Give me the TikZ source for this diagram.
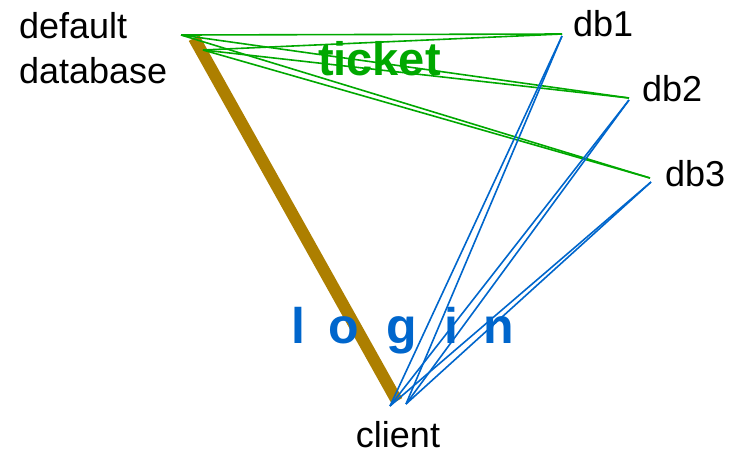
\documentclass[tikz,border=0pt]{standalone}
\usepackage{fontspec}
\setmainfont{Liberation Sans}
\usetikzlibrary{positioning}
\definecolor{ticketgreen}{HTML}{00A800}
\definecolor{loginblue}{HTML}{0066CC}
\definecolor{trustbrown}{HTML}{AD7F00}

\begin{document}
\begin{tikzpicture}[
  x=1pt, y=-1pt,
  every node/.style={inner sep=0pt, outer sep=0pt},
  lbl/.style={font=\fontsize{36}{45}\selectfont, align=left},
  tkt/.style={line width=1.6pt, color=ticketgreen},
  lgn/.style={line width=1.6pt, color=loginblue},
  trust/.style={line width=12pt, color=trustbrown},
  word/.style={font=\fontsize{47}{50}\selectfont\bfseries},
]
  \useasboundingbox (0,0) rectangle (733,456);

  \coordinate (dfltA) at (181,35);
  \coordinate (dfltB) at (203,50);
  \coordinate (dfltT) at (194,38);
  \coordinate (clA) at (390,406);
  \coordinate (clB) at (406,404);
  \coordinate (clT) at (397,401);
  \coordinate (db1p) at (562,34);
  \coordinate (db2p) at (629,98);
  \coordinate (db3p) at (650,178);
  \coordinate (db1q) at (562,36);
  \coordinate (db2q) at (629,100);
  \coordinate (db3q) at (651,182);

  \draw[trust] (dfltT) -- (clT);

  \foreach \d in {db1p,db2p,db3p} {
    \draw[tkt] (dfltA) -- (\d);
    \draw[tkt] (dfltB) -- (\d);
  }
  \foreach \d in {db1q,db2q,db3q} {
    \draw[lgn] (clA) -- (\d);
    \draw[lgn] (clB) -- (\d);
  }

  \node[lbl, anchor=north west] (dflt) at (19,12) {default\\database};
  \node[lbl, anchor=base west] (db1) at (573,36) {db1};
  \node[lbl, anchor=base west] (db2) at (642,101) {db2};
  \node[lbl, anchor=base west] (db3) at (665,186) {db3};
  \node[lbl, anchor=base] (client) at (398,447) {client};

  \node[word, anchor=base west, text=ticketgreen] (ticket) at (318,75) {ticket};
  \foreach \c/\x [count=\i] in {l/298,o/344,g/402,i/451,n/499}
    \node[word, font=\fontsize{50}{52}\selectfont\bfseries, anchor=base, text=loginblue] (login\i) at (\x,343) {\c};
\end{tikzpicture}
\end{document}
